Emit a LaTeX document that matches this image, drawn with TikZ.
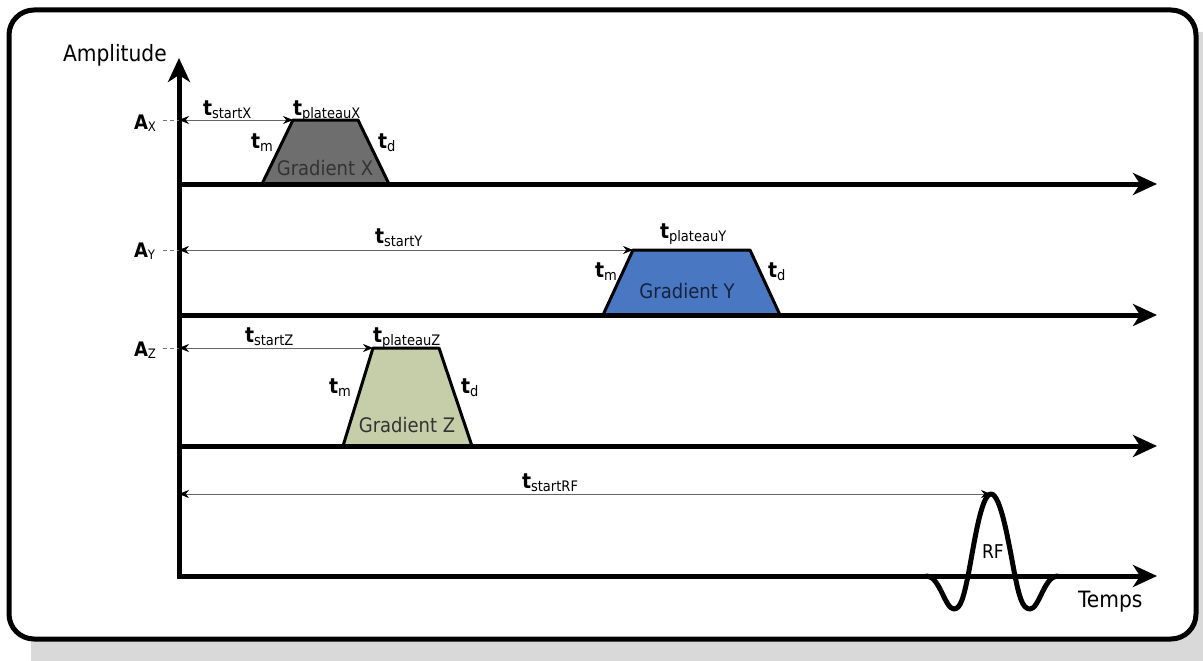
\documentclass[tikz,border=0pt]{standalone}
\usepackage{fontspec}
\setmainfont{DejaVu Sans}[FakeStretch=0.9]
\usetikzlibrary{arrows.meta}
\definecolor{gx}{HTML}{6E6E6E}
\definecolor{gy}{HTML}{4A77C2}
\definecolor{gz}{HTML}{C5CEA8}
\definecolor{shadowc}{HTML}{D9D9D9}
\definecolor{gytext}{HTML}{16233D}
\newcommand\tlab[1]{{\fontsize{21}{24}\selectfont\bfseries t}\raisebox{-3.5pt}{\fontsize{14.5}{16}\selectfont #1}}
\newcommand\alab[1]{{\fontsize{20}{24}\selectfont\bfseries A}\raisebox{-2pt}{\fontsize{13}{15}\selectfont #1}}
\begin{document}
\begin{tikzpicture}[x=1pt,y=-1pt,
  every node/.style={inner sep=0pt,outer sep=0pt},
  axis/.style={line width=5pt,-{Stealth[length=24pt,width=22pt,inset=7pt]}},
  dim/.style={line width=0.8pt,draw=black!60,{Stealth[length=10pt,width=8pt,black]}-{Stealth[length=10pt,width=8pt,black]}},
  guide/.style={line width=0.8pt,draw=black!55,dash pattern=on 4pt off 3pt},
  trap/.style={line width=3pt,line join=round,draw=black},
  lbl/.style={anchor=base west},
  gtext/.style={anchor=base,font=\fontsize{20}{24}\selectfont}]
\fill[white] (0,0) rectangle (1203,661);
\useasboundingbox (0,0) rectangle (1203,661);
% shadow and frame
\fill[shadowc, rounded corners=25pt] (31,32) rectangle (1230,690);
\draw[line width=5pt, fill=white, rounded corners=25pt] (9,10) rectangle (1196,639);

% coordinates
\coordinate (ax) at (179,120);
\coordinate (ay) at (179,250);
\coordinate (az) at (179,348);
\coordinate (arf) at (179,494);
\coordinate (gax) at (163,120);
\coordinate (gay) at (163,250);
\coordinate (gaz) at (163,348);
\coordinate (x1) at (262,184); \coordinate (x2) at (293,120);
\coordinate (x3) at (358,120); \coordinate (x4) at (389,184);
\coordinate (y1) at (603,315); \coordinate (y2) at (633,250);
\coordinate (y3) at (750,250); \coordinate (y4) at (780,315);
\coordinate (z1) at (343,446); \coordinate (z2) at (373,348);
\coordinate (z3) at (439,348); \coordinate (z4) at (472,446);
\coordinate (rfpeak) at (991,494);

% trapezoids
\filldraw[trap, fill=gx] (x1) -- (x2) -- (x3) -- (x4);
\filldraw[trap, fill=gy] (y1) -- (y2) -- (y3) -- (y4);
\filldraw[trap, fill=gz] (z1) -- (z2) -- (z3) -- (z4);

% axes
\coordinate (vbot) at (179,578.5);
\coordinate (vtop) at (179,58);
\draw[axis] (vbot) -- (vtop);
\foreach \yy/\nm in {184/hx,315/hy,446/hz,576/hrf}{
  \coordinate (\nm s) at (176.5,\yy);
  \coordinate (\nm e) at (1157,\yy);
  \draw[axis] (\nm s) -- (\nm e);
}

% RF pulse
\coordinate (rf0) at (927,576);
\coordinate (rf1) at (954,609);
\coordinate (rf2) at (968,576);
\coordinate (rf3) at (1015,576);
\coordinate (rf4) at (1030,609);
\coordinate (rf5) at (1057,576);
\draw[line width=5pt, line cap=round, line join=round]
  (rf0) .. controls (940,577) and (945,609) .. (rf1)
        .. controls (961,609) and (964,595) .. (rf2)
        .. controls (974,545) and (981,494) .. (rfpeak)
        .. controls (1001,494) and (1009,545) .. (rf3)
        .. controls (1019,595) and (1022,609) .. (rf4)
        .. controls (1039,609) and (1044,577) .. (rf5);

% guides and dimension arrows
\draw[guide] (gax) -- (ax);
\draw[guide] (gay) -- (ay);
\draw[guide] (gaz) -- (az);
\draw[dim] (ax) -- (x2);
\draw[dim] (ay) -- (y2);
\draw[dim] (az) -- (z2);
\draw[dim] (arf) -- (rfpeak);

% labels
\node[lbl, font=\fontsize{22.5}{26}\selectfont] (amp) at (63,62) {Amplitude};
\node[lbl, font=\fontsize{22.5}{26}\selectfont] (temps) at (1078,607) {Temps};
\node[lbl, font=\fontsize{19}{22}\selectfont] (rf) at (982,558) {RF};
\node[lbl] (lax) at (134,129) {\alab{X}};
\node[lbl] (lay) at (134,257) {\alab{Y}};
\node[lbl] (laz) at (134,356) {\alab{Z}};

\node[lbl] (tsx) at (203,115) {\tlab{startX}};
\node[lbl] (tpx) at (293,115) {\tlab{plateauX}};
\node[lbl] (tmx) at (251,148) {\tlab{m}};
\node[lbl] (tdx) at (378,148) {\tlab{d}};

\node[lbl] (tsy) at (375,243) {\tlab{startY}};
\node[lbl] (tpy) at (660,238) {\tlab{plateauY}};
\node[lbl] (tmy) at (595,277) {\tlab{m}};
\node[lbl] (tdy) at (768,277) {\tlab{d}};

\node[lbl] (tsz) at (245,342) {\tlab{startZ}};
\node[lbl] (tpz) at (373,342) {\tlab{plateauZ}};
\node[lbl] (tmz) at (329,393) {\tlab{m}};
\node[lbl] (tdz) at (461,393) {\tlab{d}};

\node[lbl] (tsrf) at (522,488) {\tlab{startRF}};

\node[gtext, text=black!80] (gxl) at (325,175) {Gradient X};
\node[gtext, text=gytext] (gyl) at (687,298) {Gradient Y};
\node[gtext, text=black!80] (gzl) at (407,432) {Gradient Z};
\end{tikzpicture}
\end{document}
